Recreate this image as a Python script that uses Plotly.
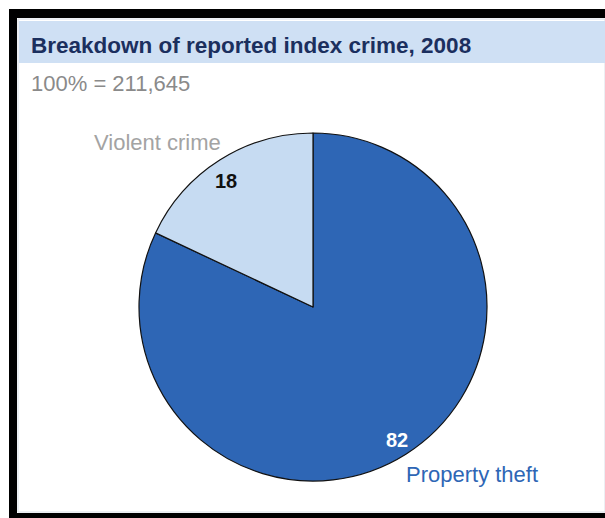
import plotly.graph_objects as go

W, H = 605, 518

categories = ["Property theft", "Violent crime"]
values = [82, 18]
slice_colors = ["#2E66B5", "#C6DBF2"]
value_font_colors = ["#FFFFFF", "#111111"]
title_text = "Breakdown of reported index crime, 2008"
subtitle_text = "100% = 211,645"

def px(x):
    return x / W

def py(y):
    return 1 - y / H

# pie geometry in pixels
cx, cy, r = 313, 307, 174

fig = go.Figure(go.Pie(
    labels=categories,
    values=values,
    sort=False,
    direction="clockwise",
    rotation=0,
    marker=dict(colors=slice_colors, line=dict(color="#111111", width=1.2)),
    textinfo="none",
    hoverinfo="label+value",
    showlegend=False,
    domain=dict(x=[px(cx - r), px(cx + r)], y=[py(cy + r), py(cy - r)]),
))

shapes = []
def rect(x0, y0, x1, y1, fill, line=None):
    shapes.append(dict(type="rect", xref="paper", yref="paper",
                       x0=px(x0), x1=px(x1), y0=py(y1), y1=py(y0),
                       fillcolor=fill, line=dict(width=0) if line is None else line,
                       layer="below"))

# black frame
rect(9, 9, W, 18, "#000000")
rect(9, 9, 17, H, "#000000")
rect(9, 513, W, H, "#000000")
# inner panel faint border
rect(18, 19, W, 512, "#FFFFFF", dict(color="#D8DEE6", width=1))
# title bar
rect(19, 21, W, 63, "#CFE0F4")

FONT = "Liberation Sans, Arial"
annotations = [
    dict(text="<b>" + title_text + "</b>", x=px(29), y=py(45), xanchor="left", yanchor="middle",
         font=dict(family=FONT, size=22.5, color="#1B2F5E")),
    dict(text=subtitle_text, x=px(29), y=py(83), xanchor="left", yanchor="middle",
         font=dict(family=FONT, size=22, color="#8A8A8A")),
    dict(text=categories[1], x=px(92), y=py(142), xanchor="left", yanchor="middle",
         font=dict(family=FONT, size=22, color="#A3A3A3")),
    dict(text="<b>%d</b>" % values[1], x=px(226), y=py(181), xanchor="center", yanchor="middle",
         font=dict(family=FONT, size=20, color=value_font_colors[1])),
    dict(text="<b>%d</b>" % values[0], x=px(397), y=py(440), xanchor="center", yanchor="middle",
         font=dict(family=FONT, size=20, color=value_font_colors[0])),
    dict(text=categories[0], x=px(404), y=py(474), xanchor="left", yanchor="middle",
         font=dict(family=FONT, size=22, color="#2E66B5")),
]
for a in annotations:
    a.update(xref="paper", yref="paper", showarrow=False)

fig.update_layout(
    width=W, height=H,
    margin=dict(l=0, r=0, t=0, b=0),
    paper_bgcolor="#FFFFFF",
    plot_bgcolor="#FFFFFF",
    shapes=shapes,
    annotations=annotations,
)

fig.write_html("out.html")
